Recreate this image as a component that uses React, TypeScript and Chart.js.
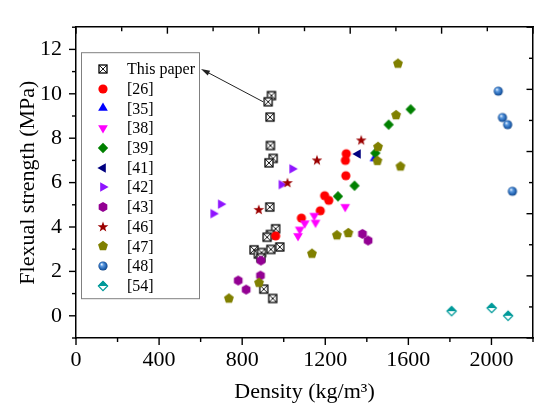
import React, { useEffect, useRef } from 'react';
import { Chart, registerables } from 'chart.js';

Chart.register(...registerables);

const FONT = '"Liberation Serif", "Times New Roman", serif';

// ---------- data ----------
const thisPaperX = [941, 925, 934, 936, 949, 929, 933, 961, 936, 920, 981, 938, 857, 878, 893, 890, 904, 947];
const thisPaperY = [9.92, 9.64, 8.95, 7.67, 7.09, 6.89, 4.9, 3.92, 3.66, 3.54, 3.1, 2.99, 2.97, 2.78, 2.85, 2.62, 1.2, 0.78];
const ref26X = [1301, 1297, 1299, 1197, 1217, 1176, 1085, 961];
const ref26Y = [7.3, 7.0, 6.31, 5.41, 5.2, 4.73, 4.4, 3.6];
const ref35X = [1437];
const ref35Y = [7.09];
const ref38X = [1296, 1147, 1153, 1101, 1077, 1069];
const ref38Y = [4.91, 4.51, 4.2, 4.17, 3.89, 3.6];
const ref39X = [1611, 1505, 1441, 1341, 1261];
const ref39Y = [9.3, 8.61, 7.33, 5.86, 5.38];
const ref41X = [1357];
const ref41Y = [7.29];
const ref42X = [1041, 989, 697, 661];
const ref42Y = [6.62, 5.91, 5.03, 4.6];
const ref43X = [890, 888, 781, 819, 1379, 1406];
const ref43Y = [2.49, 1.81, 1.59, 1.18, 3.69, 3.39];
const ref46X = [1373, 1160, 1018, 880];
const ref46Y = [7.9, 7.0, 5.98, 4.77];
const ref47X = [1550, 1541, 1454, 1451, 1562, 1311, 1256, 1136, 881, 736];
const ref47Y = [11.36, 9.04, 7.61, 6.98, 6.73, 3.73, 3.63, 2.8, 1.49, 0.78];
const ref48X = [2033, 2053, 2078, 2101];
const ref48Y = [10.12, 8.93, 8.61, 5.61];
const ref54X = [1808, 2001, 2080];
const ref54Y = [0.21, 0.35, 0.0];

const seriesLabels = ['This paper', '[26]', '[35]', '[38]', '[39]', '[41]', '[42]', '[43]', '[46]', '[47]', '[48]', '[54]'];

// axis ranges
const xMin = 0, xMax = 2200, xMajor = 400, xMinor = 200;
const yMin = -1, yMax = 13, yMajor = 2, yMinor = 1;
const mirrorMax = 10; // top/right mirror axes

const xTitle = 'Density (kg/m\u00B3)';
const yTitle = 'Flexual strength (MPa)';

// ---------- marker images ----------
function makeMarker(draw: (c: CanvasRenderingContext2D) => void, size = 14): HTMLCanvasElement {
  const cv = document.createElement('canvas');
  cv.width = size;
  cv.height = size;
  const c = cv.getContext('2d')!;
  c.translate(size / 2, size / 2);
  draw(c);
  return cv;
}

function poly(c: CanvasRenderingContext2D, n: number, r: number, rot: number) {
  c.beginPath();
  for (let i = 0; i < n; i++) {
    const a = rot + (i * 2 * Math.PI) / n;
    const px = r * Math.cos(a);
    const py = r * Math.sin(a);
    if (i === 0) c.moveTo(px, py); else c.lineTo(px, py);
  }
  c.closePath();
}

function buildMarkers() {
  const crossSq = makeMarker((c) => {
    c.fillStyle = '#fff';
    c.fillRect(-4.5, -4.5, 9, 9);
    c.strokeStyle = '#000';
    c.lineWidth = 1.3;
    c.strokeRect(-4, -4, 8, 8);
    c.lineWidth = 0.9;
    c.beginPath();
    c.moveTo(-4, -4); c.lineTo(4, 4);
    c.moveTo(4, -4); c.lineTo(-4, 4);
    c.stroke();
  });
  const circle = makeMarker((c) => {
    c.fillStyle = '#ff0000';
    c.beginPath(); c.arc(0, 0, 4.6, 0, Math.PI * 2); c.fill();
  });
  const tri = (color: string, rot: number) => makeMarker((c) => {
    c.fillStyle = color;
    poly(c, 3, 5.6, rot);
    c.fill();
  });
  const triUp = tri('#0000ff', -Math.PI / 2);
  const triDown = tri('#ff00ff', Math.PI / 2);
  const triLeft = tri('#000080', Math.PI);
  const triRight = tri('#8f14ff', 0);
  const diamond = makeMarker((c) => {
    c.fillStyle = '#008000';
    poly(c, 4, 5.2, 0);
    c.fill();
  });
  const hexagon = makeMarker((c) => {
    c.fillStyle = '#930093';
    poly(c, 6, 5, Math.PI / 6);
    c.fill();
  });
  const star = makeMarker((c) => {
    c.fillStyle = '#9b0000';
    c.beginPath();
    for (let i = 0; i < 10; i++) {
      const r = i % 2 === 0 ? 5.6 : 2.3;
      const a = -Math.PI / 2 + (i * Math.PI) / 5;
      const px = r * Math.cos(a), py = r * Math.sin(a);
      if (i === 0) c.moveTo(px, py); else c.lineTo(px, py);
    }
    c.closePath();
    c.fill();
  });
  const pentagon = makeMarker((c) => {
    c.fillStyle = '#808000';
    poly(c, 5, 5.2, -Math.PI / 2);
    c.fill();
  });
  const sphere = makeMarker((c) => {
    const g = c.createRadialGradient(-1.5, -1.8, 0.3, 0, 0, 4.8);
    g.addColorStop(0, '#e8f2ff');
    g.addColorStop(0.3, '#5d9be0');
    g.addColorStop(0.75, '#1f5fae');
    g.addColorStop(1, '#12427e');
    c.fillStyle = g;
    c.beginPath(); c.arc(0, 0, 4.6, 0, Math.PI * 2); c.fill();
  });
  const halfDiamond = makeMarker((c) => {
    c.fillStyle = '#fff';
    poly(c, 4, 5.2, 0);
    c.fill();
    c.fillStyle = '#009a9a';
    c.beginPath();
    c.moveTo(-5.2, 0); c.lineTo(0, -5.2); c.lineTo(5.2, 0); c.closePath();
    c.fill();
    c.strokeStyle = '#009a9a';
    c.lineWidth = 1.2;
    poly(c, 4, 4.6, 0);
    c.stroke();
  });
  return [crossSq, circle, triUp, triDown, diamond, triLeft, triRight, hexagon, star, pentagon, sphere, halfDiamond];
}

function pts(xs: number[], ys: number[]) {
  return xs.map((x, i) => ({ x, y: ys[i] }));
}

export default function App() {
  const ref = useRef<HTMLCanvasElement | null>(null);

  useEffect(() => {
    if (!ref.current) return;
    const markers = buildMarkers();
    const seriesData = [
      pts(thisPaperX, thisPaperY),
      pts(ref26X, ref26Y),
      pts(ref35X, ref35Y),
      pts(ref38X, ref38Y),
      pts(ref39X, ref39Y),
      pts(ref41X, ref41Y),
      pts(ref42X, ref42Y),
      pts(ref43X, ref43Y),
      pts(ref46X, ref46Y),
      pts(ref47X, ref47Y),
      pts(ref48X, ref48Y),
      pts(ref54X, ref54Y),
    ];
    const n = seriesData.length;

    const decorPlugin = {
      id: 'decor',
      afterDraw(chart: any) {
        const ctx: CanvasRenderingContext2D = chart.ctx;
        const a = chart.chartArea;
        const sx = chart.scales.x, sy = chart.scales.y, sx2 = chart.scales.x2, sy2 = chart.scales.y2;
        ctx.save();
        ctx.strokeStyle = '#000';
        ctx.lineWidth = 1.4;
        const ln = (x1: number, y1: number, x2: number, y2: number) => {
          ctx.beginPath(); ctx.moveTo(x1, y1); ctx.lineTo(x2, y2); ctx.stroke();
        };
        // bottom ticks (outward)
        for (let v = xMin; v <= xMax; v += xMinor) {
          const p = sx.getPixelForValue(v);
          ln(p, a.bottom, p, a.bottom + (v % xMajor === 0 ? 7 : 4));
        }
        // left ticks (outward)
        for (let v = yMin; v <= yMax; v += yMinor) {
          const p = sy.getPixelForValue(v);
          ln(a.left, p, a.left - (v % yMajor === 0 ? 7 : 4), p);
        }
        // top ticks (inward)
        for (let v = 0; v <= mirrorMax; v += 1) {
          const p = sx2.getPixelForValue(v);
          ln(p, a.top, p, a.top + (v % 2 === 0 ? 6.5 : 4));
        }
        // right ticks (inward)
        for (let v = 0; v <= mirrorMax; v += 1) {
          const p = sy2.getPixelForValue(v);
          ln(a.right, p, a.right - (v % 2 === 0 ? 6.5 : 4), p);
        }

        // legend box
        const lx = a.left + 5, ly = a.top + 25, lw = 118, lh = 246;
        ctx.strokeStyle = '#808080';
        ctx.lineWidth = 1;
        ctx.strokeRect(lx + 0.5, ly + 0.5, lw, lh);
        ctx.font = `16px ${FONT}`;
        ctx.fillStyle = '#000';
        ctx.textBaseline = 'middle';
        ctx.textAlign = 'left';
        for (let i = 0; i < n; i++) {
          const ry = ly + 16.7 + i * 19.73;
          const m = markers[i];
          ctx.drawImage(m, Math.round(lx + 22 - m.width / 2), Math.round(ry - m.height / 2));
          ctx.fillText(seriesLabels[i], lx + 46, ry + 1);
        }

        // arrow from "This paper" data to legend entry
        const sxp = sx.getPixelForValue(thisPaperX[1]) - 5;
        const syp = sy.getPixelForValue(thisPaperY[1]);
        const ex = lx + lw + 2, ey = ly + 16.7;
        ctx.strokeStyle = '#222';
        ctx.fillStyle = '#222';
        ctx.lineWidth = 1;
        ln(sxp, syp, ex + 6, ey + (syp - ey) * (6 / (sxp - ex)));
        const ang = Math.atan2(syp - ey, sxp - ex);
        ctx.beginPath();
        ctx.moveTo(ex, ey);
        ctx.lineTo(ex + 9 * Math.cos(ang) - 2.6 * Math.sin(ang), ey + 9 * Math.sin(ang) + 2.6 * Math.cos(ang));
        ctx.lineTo(ex + 9 * Math.cos(ang) + 2.6 * Math.sin(ang), ey + 9 * Math.sin(ang) - 2.6 * Math.cos(ang));
        ctx.closePath();
        ctx.fill();
        ctx.restore();
      },
    };

    const chart = new Chart(ref.current, {
      type: 'scatter',
      data: {
        datasets: seriesData.map((d, i) => ({
          label: seriesLabels[i],
          data: d,
          pointStyle: markers[i] as any,
          pointRadius: 5,
          order: n - i,
          showLine: false,
          xAxisID: 'x',
          yAxisID: 'y',
        })),
      },
      options: {
        responsive: false,
        animation: false,
        events: [],
        layout: { padding: 0 },
        plugins: {
          legend: { display: false },
          tooltip: { enabled: false },
        },
        scales: {
          x: {
            type: 'linear',
            position: 'bottom',
            min: xMin,
            max: xMax,
            afterFit: (s: any) => { s.height = 74; },
            grid: { display: false, drawTicks: false },
            border: { display: true, color: '#000', width: 1.5 },
            ticks: {
              stepSize: xMinor,
              autoSkip: false,
              maxRotation: 0,
              padding: 9,
              color: '#000',
              font: { family: FONT, size: 22 },
              callback: (v: any) => (Number(v) % xMajor === 0 ? String(v) : ''),
            },
            title: {
              display: true,
              text: xTitle,
              color: '#000',
              font: { family: FONT, size: 22, lineHeight: 1.2 },
              padding: { top: 0, bottom: 7 },
            },
          },
          y: {
            type: 'linear',
            position: 'left',
            min: yMin,
            max: yMax,
            afterFit: (s: any) => { s.width = 76; },
            grid: { display: false, drawTicks: false },
            border: { display: true, color: '#000', width: 1.5 },
            ticks: {
              stepSize: yMinor,
              autoSkip: false,
              padding: 14,
              color: '#000',
              font: { family: FONT, size: 22 },
              callback: (v: any) => (Number(v) % yMajor === 0 ? String(v) : ''),
            },
            title: {
              display: true,
              text: yTitle,
              color: '#000',
              font: { family: FONT, size: 22, lineHeight: 1.2 },
              padding: { top: 15, bottom: 0 },
            },
          },
          x2: {
            type: 'linear',
            position: 'top',
            min: 0,
            max: mirrorMax,
            afterFit: (s: any) => { s.height = 10; },
            grid: { display: false, drawTicks: false },
            border: { display: true, color: '#000', width: 1.5 },
            ticks: { display: false },
          },
          y2: {
            type: 'linear',
            position: 'right',
            min: 0,
            max: mirrorMax,
            afterFit: (s: any) => { s.width = 17; },
            grid: { display: false, drawTicks: false },
            border: { display: true, color: '#000', width: 1.5 },
            ticks: { display: false },
          },
        },
      },
      plugins: [decorPlugin],
    });

    return () => chart.destroy();
  }, []);

  return (
    <div style={{ position: 'absolute', left: 0, top: 0, width: 550, height: 412, background: '#fff' }}>
      <canvas ref={ref} width={550} height={412} />
    </div>
  );
}
